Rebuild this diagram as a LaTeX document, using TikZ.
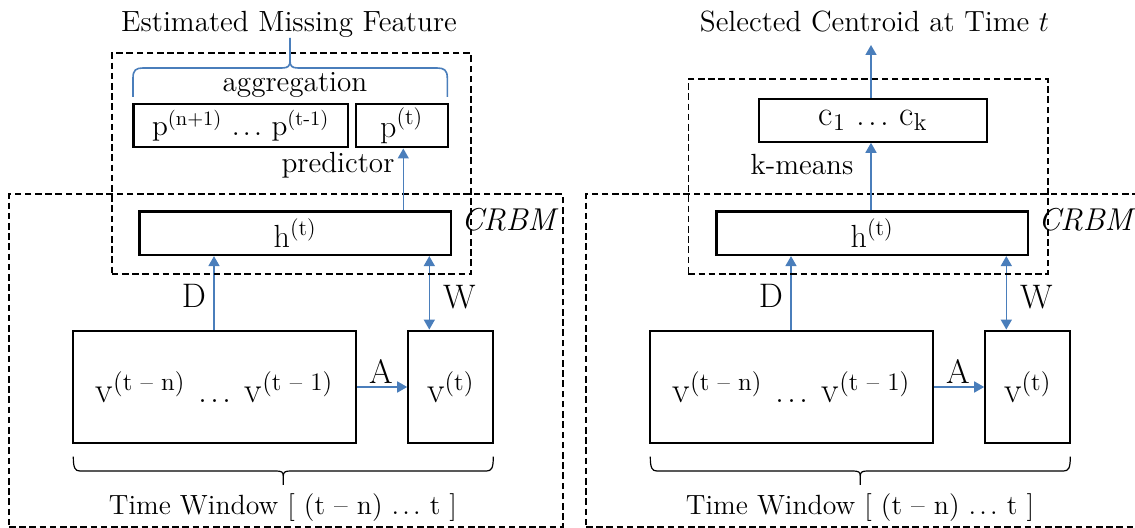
\documentclass[tikz,border=0pt]{standalone}
\usepackage{fontspec}
\usetikzlibrary{arrows.meta}
\definecolor{linkblue}{RGB}{74,126,187}
\newcommand{\dotsrow}{.\kern1.6pt.\kern1.6pt.}
\tikzset{
  box/.style={draw, line width=1.1pt, inner sep=0pt, font=\fontsize{16}{19}\selectfont},
  region/.style={draw, line width=0.8pt, dash pattern=on 3.3pt off 1.8pt, inner sep=0pt},
  link/.style={draw=linkblue, line width=0.8pt, -{Triangle[length=5pt,width=5.5pt]}},
  twoway/.style={draw=linkblue, line width=0.8pt, {Triangle[length=5pt,width=5.5pt]}-{Triangle[length=5pt,width=5.5pt]}},
  bluebrace/.style={draw=linkblue, line width=0.8pt},
  blackbrace/.style={draw=black, line width=0.6pt},
  txt/.style={inner sep=0pt},
  big/.style={font=\fontsize{18}{21}\selectfont},
  weight/.style={inner sep=0pt, font=\fontsize{17}{20}\selectfont},
}
\begin{document}
\begin{tikzpicture}[x=0.5pt, y=-0.5pt, font=\fontsize{14.6}{17}\selectfont]
\useasboundingbox (0,0) rectangle (1135,528);

% ---------- shared lower part: CRBM block with visible layer window ----------
\foreach \s/\p in {0/L,577/R}{
  \begin{scope}[shift={(\s,0)}]
    % CRBM frame
    \node[region, minimum width=276.85pt, minimum height=166.35pt] (crbm\p) at (285.85,360.65) {};
    \node[txt, font=\fontsize{15.8}{18}\selectfont\itshape] (crbmlabel\p) at (508.3,220) {CRBM};
    % hidden layer
    \node[box, minimum width=155.8pt, minimum height=21.7pt] (h\p) at (295.2,233.3) {h\textsuperscript{(t)}};
    % visible history and current visible vector
    \node[box, big, minimum width=141.2pt, minimum height=56.3pt] (vhist\p) at (214.5,387)
      {v\textsuperscript{(t – n)}\hspace{6.5pt}\dotsrow\hspace{6.5pt}v\textsuperscript{(t – 1)}};
    \node[box, big, minimum width=42.5pt, minimum height=56.3pt] (vnow\p) at (450.8,387) {v\textsuperscript{(t)}};
    % connector columns
    \coordinate (dcol\p) at (214,0);
    \coordinate (wcol\p) at (429.3,0);
    \draw[link] (vhist\p.north -| dcol\p) -- (h\p.south -| dcol\p);
    \draw[twoway] (h\p.south -| wcol\p) -- (vnow\p.north -| wcol\p);
    \draw[link] (vhist\p.east) -- (vnow\p.west);
    \node[weight] (dlabel\p) at (194,296) {D};
    \node[weight] (wlabel\p) at (459.3,297) {W};
    \node[weight] (alabel\p) at (381,371) {A};
    % time window brace
    \draw[blackbrace] (73.3,456.7) .. controls (73.3,468) and (75,471) .. (80,471) -- (276,471)
      .. controls (281.5,471) and (283.3,472) .. (283.3,476) -- (283.3,485);
    \draw[blackbrace] (283.3,476) .. controls (283.3,472) and (285.1,471) .. (290.6,471) -- (486.6,471)
      .. controls (491.6,471) and (493.3,468) .. (493.3,456.7);
    \node[txt, anchor=base, font=\fontsize{13.9}{16}\selectfont] (window\p) at (283,515) {Time Window [ (t – n) \dotsrow\ t ]};
  \end{scope}
}

% ---------- left: missing feature estimation ----------
\node[region, minimum width=179.65pt, minimum height=110.35pt] (predL) at (291.35,163.65) {};
\node[box, font=\fontsize{14.6}{17}\selectfont, minimum width=107.3pt, minimum height=21.7pt] (ppast) at (240.7,125.7)
  {p\textsuperscript{(n+1)} \dotsrow\ p\textsuperscript{(t-1)}};
\node[box, minimum width=46pt, minimum height=21.7pt] (pnow) at (401.7,125.7) {p\textsuperscript{(t)}};
\coordinate (pcol) at (403.3,0);
\draw[link] (hL.north -| pcol) -- (pnow.south -| pcol);
\node[txt, anchor=base] (predictor) at (338,173) {predictor};
\node[txt, anchor=base] (aggregation) at (295,91.7) {aggregation};
\draw[bluebrace] (133,97) -- (133,78) .. controls (133,70) and (136,68) .. (143,68) -- (282,68)
  .. controls (288,68) and (290,66) .. (290,61) -- (290,38);
\draw[bluebrace] (290,61) .. controls (290,66) and (292,68) .. (298,68) -- (437,68)
  .. controls (444,68) and (447.3,70) .. (447.3,78) -- (447.3,97);
\node[txt, anchor=base] (estimated) at (289,31.7) {Estimated Missing Feature};

% ---------- right: centroid selection ----------
\node[region, minimum width=179.7pt, minimum height=97.5pt] (clusterR) at (868,176.5) {};
\node[box, font=\fontsize{17.5}{20}\selectfont, minimum width=113.85pt, minimum height=21.35pt] (cents) at (873.15,120.35)
  {$\mathrm{c}_{1}$ \dotsrow\ $\mathrm{c}_{\mathrm{k}}$};
\coordinate (kcol) at (871,0);
\coordinate (outtip) at (871,45);
\draw[link] (hR.north -| kcol) -- (cents.south -| kcol);
\draw[link] (cents.north -| kcol) -- (outtip);
\node[txt, anchor=base] (kmeans) at (802,175) {k-means};
\node[txt, anchor=base] (selected) at (874.5,31.7) {Selected Centroid at Time $t$};
\end{tikzpicture}
\end{document}
